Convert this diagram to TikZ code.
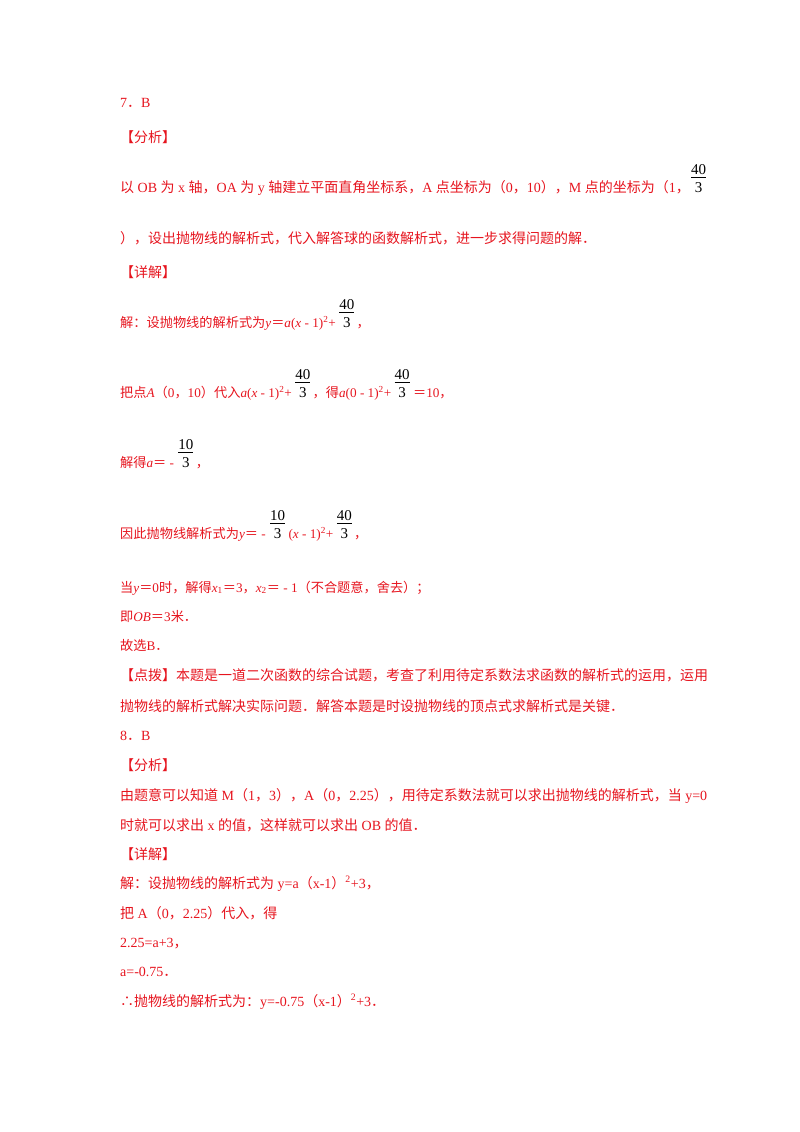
\documentclass[tikz,border=0pt]{standalone}
\usepackage{fontspec}
\setmainfont{Liberation Serif}
\newfontfamily\cjk{Noto Sans CJK SC}
\XeTeXinterchartokenstate=1
\newXeTeXintercharclass\cjkclass
\count255="3000 \loop\ifnum\count255<"3040 \XeTeXcharclass\count255=\cjkclass \advance\count255 1 \repeat
\count255="4E00 \loop\ifnum\count255<"A000 \XeTeXcharclass\count255=\cjkclass \advance\count255 1 \repeat
\count255="FF00 \loop\ifnum\count255<"FF60 \XeTeXcharclass\count255=\cjkclass \advance\count255 1 \repeat
\XeTeXcharclass"2234=\cjkclass
\XeTeXinterchartoks 0 \cjkclass = {\begingroup\cjk}
\XeTeXinterchartoks 4095 \cjkclass = {\begingroup\cjk}
\XeTeXinterchartoks \cjkclass 0 = {\endgroup}
\XeTeXinterchartoks \cjkclass 4095 = {\endgroup}
\definecolor{red1}{RGB}{230,20,30}
\tikzset{ln/.style={anchor=base west,inner sep=0pt,text=red1,font=\fontsize{14}{16}\selectfont},
sm/.style={ln,font=\fontsize{13.2}{15}\selectfont},
fn/.style={anchor=base west,inner sep=0pt,font=\fontsize{15}{17}\selectfont}}
\newcommand\fr[2]{\setlength\tabcolsep{0pt}\begin{tabular}[b]{c}#1\\[-3pt]\hline\rule{0pt}{15pt}#2\end{tabular}}
\newcommand\sq{\textsuperscript{2}}
\begin{document}
\begin{tikzpicture}[x=1pt,y=-1pt]
\useasboundingbox (0,0) rectangle (800,1132);
\node[ln] (a1) at (120,107) {7．B};
\node[ln] (a2) at (120,142) {【分析】};
\node[ln] (a3) at (120,192) {以 OB 为 x 轴，OA 为 y 轴建立平面直角坐标系，A 点坐标为（0，10），M 点的坐标为（1，};
\node[fn] (f1) at (691,192) {\fr{40}{3}};
\node[ln] (a4) at (120,243) {），设出抛物线的解析式，代入解答球的函数解析式，进一步求得问题的解．};
\node[ln] (a5) at (120,277) {【详解】};
\node[sm] (a6) at (120,327) {解：设抛物线的解析式为\textit{y}＝\textit{a}(\textit{x} - 1)\sq+};
\node[fn] (f2) at ([xshift=3pt]a6.base east) {\fr{40}{3}};
\node[sm] (a6b) at ([xshift=2pt]f2.base east) {，};
\node[sm] (a7) at (120,397) {把点\textit{A}（0，10）代入\textit{a}(\textit{x} - 1)\sq+};
\node[fn] (f3) at ([xshift=3pt]a7.base east) {\fr{40}{3}};
\node[sm] (a7b) at ([xshift=2pt]f3.base east) {，得\textit{a}(0 - 1)\sq+};
\node[fn] (f4) at ([xshift=3pt]a7b.base east) {\fr{40}{3}};
\node[sm] (a7c) at ([xshift=3pt]f4.base east) {＝10，};
\node[sm] (a8) at (120,467) {解得\textit{a}＝ -};
\node[fn] (f5) at ([xshift=4pt]a8.base east) {\fr{10}{3}};
\node[sm] (a8b) at ([xshift=2pt]f5.base east) {，};
\node[sm] (a9) at (120,538) {因此抛物线解析式为\textit{y}＝ -};
\node[fn] (f6) at ([xshift=4pt]a9.base east) {\fr{10}{3}};
\node[sm] (a9b) at ([xshift=3pt]f6.base east) {(\textit{x} - 1)\sq+};
\node[fn] (f7) at ([xshift=3pt]a9b.base east) {\fr{40}{3}};
\node[sm] (a9c) at ([xshift=2pt]f7.base east) {，};
\node[sm] (b1) at (120,592) {当\textit{y}＝0时，解得\textit{x}\textsubscript{1}＝3，\textit{x}\textsubscript{2}＝ - 1（不合题意，舍去）；};
\node[sm] (b2) at (120,621) {即\textit{OB}＝3米．};
\node[sm] (b3) at (120,650) {故选B．};
\node[ln] (b4) at (120,680) {【点拨】本题是一道二次函数的综合试题，考查了利用待定系数法求函数的解析式的运用，运用};
\node[ln] (b5) at (120,711) {抛物线的解析式解决实际问题．解答本题是时设抛物线的顶点式求解析式是关键．};
\node[ln] (c1) at (120,740) {8．B};
\node[ln] (c2) at (120,770) {【分析】};
\node[ln] (c3) at (120,800) {由题意可以知道 M（1，3），A（0，2.25），用待定系数法就可以求出抛物线的解析式，当 y=0};
\node[ln] (c4) at (120,830) {时就可以求出 x 的值，这样就可以求出 OB 的值．};
\node[ln] (c5) at (120,859) {【详解】};
\node[ln] (c6) at (120,888) {解：设抛物线的解析式为 y=a（x-1）\textsuperscript{2}+3，};
\node[ln] (c7) at (120,918) {把 A（0，2.25）代入，得};
\node[ln] (c8) at (120,947) {2.25=a+3，};
\node[ln] (c9) at (120,976) {a=-0.75．};
\node[ln] (c10) at (120,1006) {∴抛物线的解析式为：y=-0.75（x-1）\textsuperscript{2}+3．};
\end{tikzpicture}
\end{document}
